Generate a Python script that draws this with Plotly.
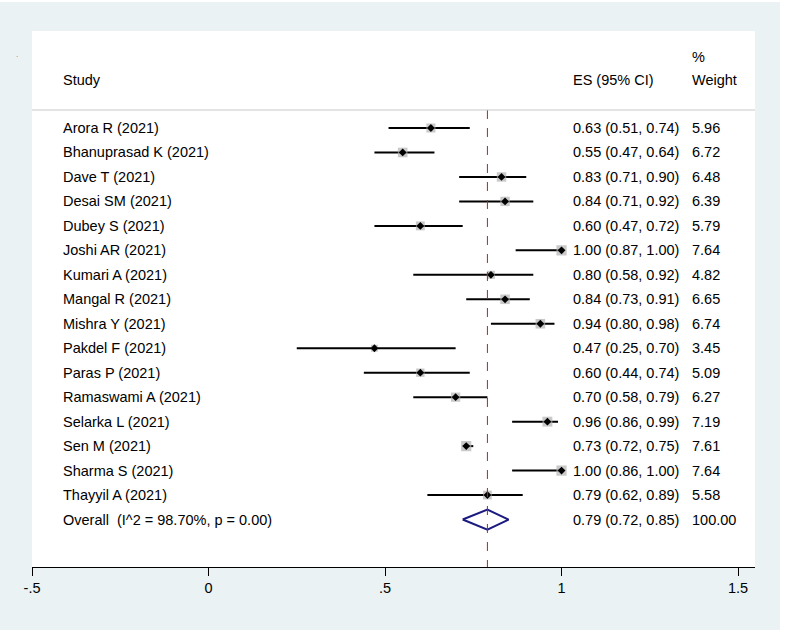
import plotly.graph_objects as go

studies = ["Arora R (2021)", "Bhanuprasad K (2021)", "Dave T (2021)", "Desai SM (2021)",
           "Dubey S (2021)", "Joshi AR (2021)", "Kumari A (2021)", "Mangal R (2021)",
           "Mishra Y (2021)", "Pakdel F (2021)", "Paras P (2021)", "Ramaswami A (2021)",
           "Selarka L (2021)", "Sen M (2021)", "Sharma S (2021)", "Thayyil A (2021)"]
es = [0.63, 0.55, 0.83, 0.84, 0.60, 1.00, 0.80, 0.84, 0.94, 0.47, 0.60, 0.70, 0.96, 0.73, 1.00, 0.79]
lo = [0.51, 0.47, 0.71, 0.71, 0.47, 0.87, 0.58, 0.73, 0.80, 0.25, 0.44, 0.58, 0.86, 0.72, 0.86, 0.62]
hi = [0.74, 0.64, 0.90, 0.92, 0.72, 1.00, 0.92, 0.91, 0.98, 0.70, 0.74, 0.79, 0.99, 0.75, 1.00, 0.89]
weight = [5.96, 6.72, 6.48, 6.39, 5.79, 7.64, 4.82, 6.65, 6.74, 3.45, 5.09, 6.27, 7.19, 7.61, 7.64, 5.58]
overall_label = "Overall  (I^2 = 98.70%, p = 0.00)"
overall_es, overall_lo, overall_hi, overall_w = 0.79, 0.72, 0.85, 100.00
tick_vals = [-0.5, 0, 0.5, 1, 1.5]
tick_text = ["-.5", "0", ".5", "1", "1.5"]

FONT = "Liberation Sans, Arial, sans-serif"
FS = 14.5
rows = list(range(len(studies)))
overall_row = len(studies)

fig = go.Figure()

# CI lines
for i in rows:
    fig.add_trace(go.Scatter(x=[lo[i], hi[i]], y=[i, i], mode="lines",
                             line=dict(color="black", width=2), showlegend=False, hoverinfo="skip"))

# weight boxes
box_sizes = [3.7 * (w ** 0.5) for w in weight]
fig.add_trace(go.Scatter(x=es, y=rows, mode="markers",
                         marker=dict(symbol="square", size=box_sizes, color="#B2B2B2",
                                     line=dict(width=0)),
                         showlegend=False, hoverinfo="skip"))
# point estimates
fig.add_trace(go.Scatter(x=es, y=rows, mode="markers",
                         marker=dict(symbol="diamond", size=6, color="black"),
                         showlegend=False, hoverinfo="skip"))

# overall diamond
dh = 0.41
fig.add_trace(go.Scatter(x=[overall_lo, overall_es, overall_hi, overall_es, overall_lo],
                         y=[overall_row, overall_row - dh, overall_row, overall_row + dh, overall_row],
                         mode="lines", line=dict(color="#1A1A80", width=2),
                         showlegend=False, hoverinfo="skip"))

y_top, y_bot = -3.964, 17.94
sep_y = -0.736

# dashed overall line
fig.add_shape(type="line", x0=overall_es, x1=overall_es, y0=sep_y, y1=y_bot,
              xref="x", yref="y", line=dict(color="#A52A2A", width=1, dash="dash"))
# separator line
fig.add_shape(type="line", x0=0, x1=1, xref="paper", y0=sep_y, y1=sep_y, yref="y",
              line=dict(color="#C8C8C8", width=1))
# white edges of the outer frame
for (x0, x1, y0, y1) in [(1.0346, 1.06, -0.2, 1.1), (-0.1, 1.1, -0.13, -0.1175), (-0.1, 1.1, 1.054, 1.07)]:
    fig.add_shape(type="rect", x0=x0, x1=x1, xref="paper", y0=y0, y1=y1, yref="paper",
                  fillcolor="white", line=dict(width=0), layer="below")

x_study, x_es, x_w = -0.418, 1.0255, 1.364
ann = []
def txt(x, y, s):
    ann.append(dict(x=x, y=y, xref="x", yref="y", text=s, showarrow=False,
                    xanchor="left", yanchor="middle", font=dict(family=FONT, size=FS, color="black")))

txt(x_study, -1.96, "Study")
txt(x_es, -1.96, "ES (95% CI)")
txt(x_w, -2.9, "%")
txt(x_w, -1.96, "Weight")
for i in rows:
    txt(x_study, i, studies[i])
    txt(x_es, i, f"{es[i]:.2f} ({lo[i]:.2f}, {hi[i]:.2f})")
    txt(x_w, i, f"{weight[i]:.2f}")
txt(x_study, overall_row, overall_label)
txt(x_es, overall_row, f"{overall_es:.2f} ({overall_lo:.2f}, {overall_hi:.2f})")
txt(x_w, overall_row, f"{overall_w:.2f}")
ann.append(dict(x=-0.0207, y=-2.75, xref="paper", yref="y", text=".", showarrow=False,
                xanchor="center", yanchor="bottom", font=dict(family=FONT, size=8, color="#777777")))

fig.update_layout(
    width=785, height=634,
    margin=dict(l=32, r=30, t=31, b=67),
    paper_bgcolor="#EAF2F3", plot_bgcolor="white",
    annotations=ann,
    xaxis=dict(range=[-0.5, 1.548], tickvals=tick_vals, ticktext=tick_text,
               showgrid=False, zeroline=False, showline=True, linecolor="black", linewidth=1,
               ticks="outside", ticklen=8, tickcolor="black", tickwidth=1,
               tickfont=dict(family=FONT, size=FS, color="black")),
    yaxis=dict(range=[y_bot, y_top], showgrid=False, zeroline=False, showticklabels=False,
               showline=False, ticks=""),
)
fig.write_html("out.html", config={"displayModeBar": False},
               post_script="document.body.style.margin='0';document.body.style.overflow='hidden';")
